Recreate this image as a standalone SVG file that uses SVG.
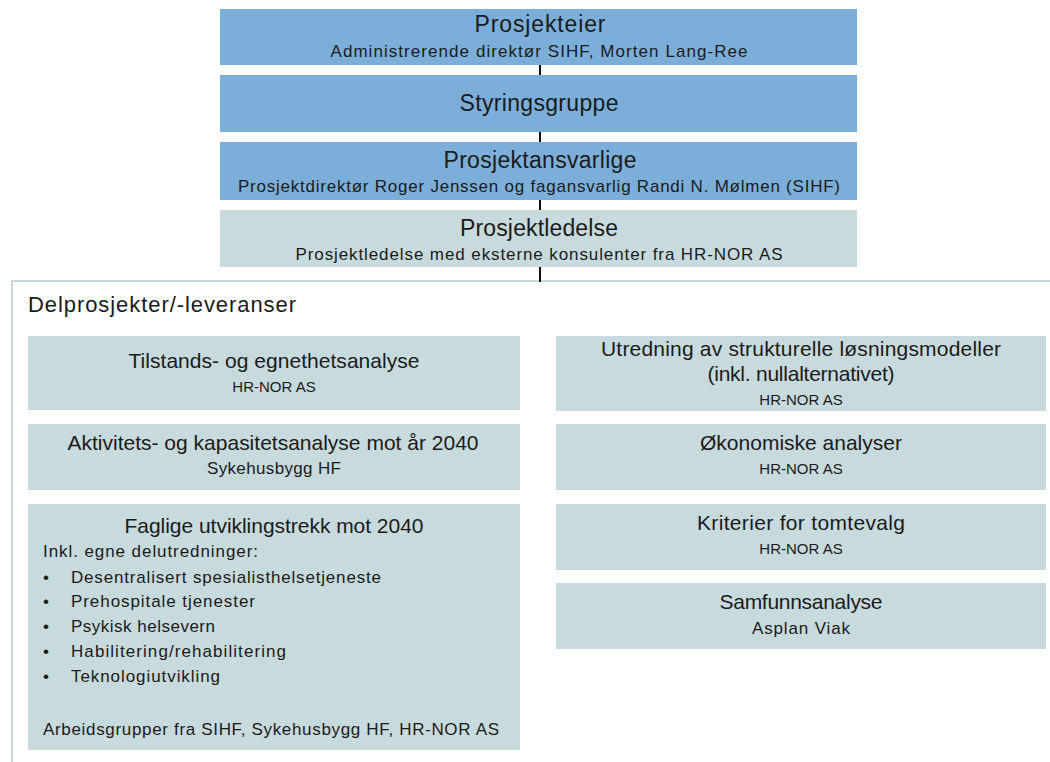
<svg xmlns="http://www.w3.org/2000/svg" width="1050" height="762" viewBox="0 0 1050 762">
<style>
text{font-family:"Liberation Sans",Arial,sans-serif;fill:#1b1b1b}
.t{font-size:23px;text-anchor:middle}
.t2{font-size:21px;text-anchor:middle}
.s{font-size:17px;text-anchor:middle}
.h{font-size:15px;text-anchor:middle}
.l{font-size:17px}
.blue{fill:#7bafd9}
.grey{fill:#c7dadd}
.conn{stroke:#111;stroke-width:2}
</style>
<rect width="1050" height="762" fill="#fff"/>
<rect id="frame" x="12" y="281" width="1060" height="500" fill="none" stroke="#cbd9dc" stroke-width="2"/>
<text x="28" y="312" style="font-size:22px" textLength="268">Delprosjekter/-leveranser</text>
<g id="connectors">
<line class="conn" x1="540" y1="65" x2="540" y2="75"/>
<line class="conn" x1="540" y1="132" x2="540" y2="142"/>
<line class="conn" x1="540" y1="200" x2="540" y2="210"/>
<line class="conn" x1="540" y1="267" x2="540" y2="282"/>
</g>
<g id="prosjekteier">
<rect class="blue" x="220" y="9" width="637" height="56"/>
<text class="t" x="540" y="32" textLength="131">Prosjekteier</text>
<text class="s" x="539" y="57" textLength="417">Administrerende  direktør SIHF, Morten Lang-Ree</text>
</g>
<g id="styringsgruppe">
<rect class="blue" x="220" y="75" width="637" height="57"/>
<text class="t" x="539" y="111" textLength="159">Styringsgruppe</text>
</g>
<g id="prosjektansvarlige">
<rect class="blue" x="220" y="142" width="637" height="58"/>
<text class="t" x="540" y="168" textLength="193">Prosjektansvarlige</text>
<text class="s" x="539" y="192" textLength="602">Prosjektdirektør  Roger Jenssen og fagansvarlig Randi N. Mølmen (SIHF)</text>
</g>
<g id="prosjektledelse">
<rect class="grey" x="220" y="210" width="637" height="57"/>
<text class="t" x="539" y="236" textLength="158">Prosjektledelse</text>
<text class="s" x="539" y="260" textLength="487">Prosjektledelse  med eksterne konsulenter fra HR-NOR AS</text>
</g>
<g id="tilstand">
<rect class="grey" x="28" y="336" width="492" height="74"/>
<text class="t2" x="274" y="368" textLength="291">Tilstands- og egnethetsanalyse</text>
<text class="h" x="274" y="392">HR-NOR AS</text>
</g>
<g id="aktivitet">
<rect class="grey" x="28" y="424" width="492" height="66"/>
<text class="t2" x="273" y="450" textLength="411">Aktivitets- og kapasitetsanalyse mot år 2040</text>
<text class="s" x="274" y="474" textLength="134">Sykehusbygg  HF</text>
</g>
<g id="faglige">
<rect class="grey" x="28" y="504" width="492" height="246"/>
<text class="t2" x="274" y="533" textLength="299">Faglige utviklingstrekk mot 2040</text>
<text class="l" x="43" y="557" textLength="215">Inkl. egne delutredninger:</text>
<text class="l" x="43" y="583">•</text><text class="l" x="71" y="583" textLength="310">Desentralisert  spesialisthelsetjeneste</text>
<text class="l" x="43" y="607">•</text><text class="l" x="71" y="607" textLength="184">Prehospitale  tjenester</text>
<text class="l" x="43" y="632">•</text><text class="l" x="71" y="632" textLength="144">Psykisk  helsevern</text>
<text class="l" x="43" y="657">•</text><text class="l" x="71" y="657" textLength="215">Habilitering/rehabilitering</text>
<text class="l" x="43" y="682">•</text><text class="l" x="71" y="682" textLength="149">Teknologiutvikling</text>
<text class="l" x="43" y="735" textLength="456">Arbeidsgrupper  fra SIHF, Sykehusbygg  HF, HR-NOR AS</text>
</g>
<g id="utredning">
<rect class="grey" x="556" y="336" width="490" height="75"/>
<text class="t2" x="801" y="356" textLength="400">Utredning av strukturelle løsningsmodeller</text>
<text class="t2" x="801" y="381" textLength="187">(inkl. nullalternativet)</text>
<text class="h" x="801" y="405">HR-NOR AS</text>
</g>
<g id="okonomi">
<rect class="grey" x="556" y="424" width="490" height="66"/>
<text class="t2" x="801" y="450">Økonomiske analyser</text>
<text class="h" x="801" y="474">HR-NOR AS</text>
</g>
<g id="kriterier">
<rect class="grey" x="556" y="504" width="490" height="66"/>
<text class="t2" x="801" y="530" textLength="208">Kriterier for tomtevalg</text>
<text class="h" x="801" y="554">HR-NOR AS</text>
</g>
<g id="samfunn">
<rect class="grey" x="556" y="583" width="490" height="66"/>
<text class="t2" x="801" y="609" textLength="163">Samfunnsanalyse</text>
<text class="s" x="801" y="634" textLength="98">Asplan Viak</text>
</g>
</svg>
